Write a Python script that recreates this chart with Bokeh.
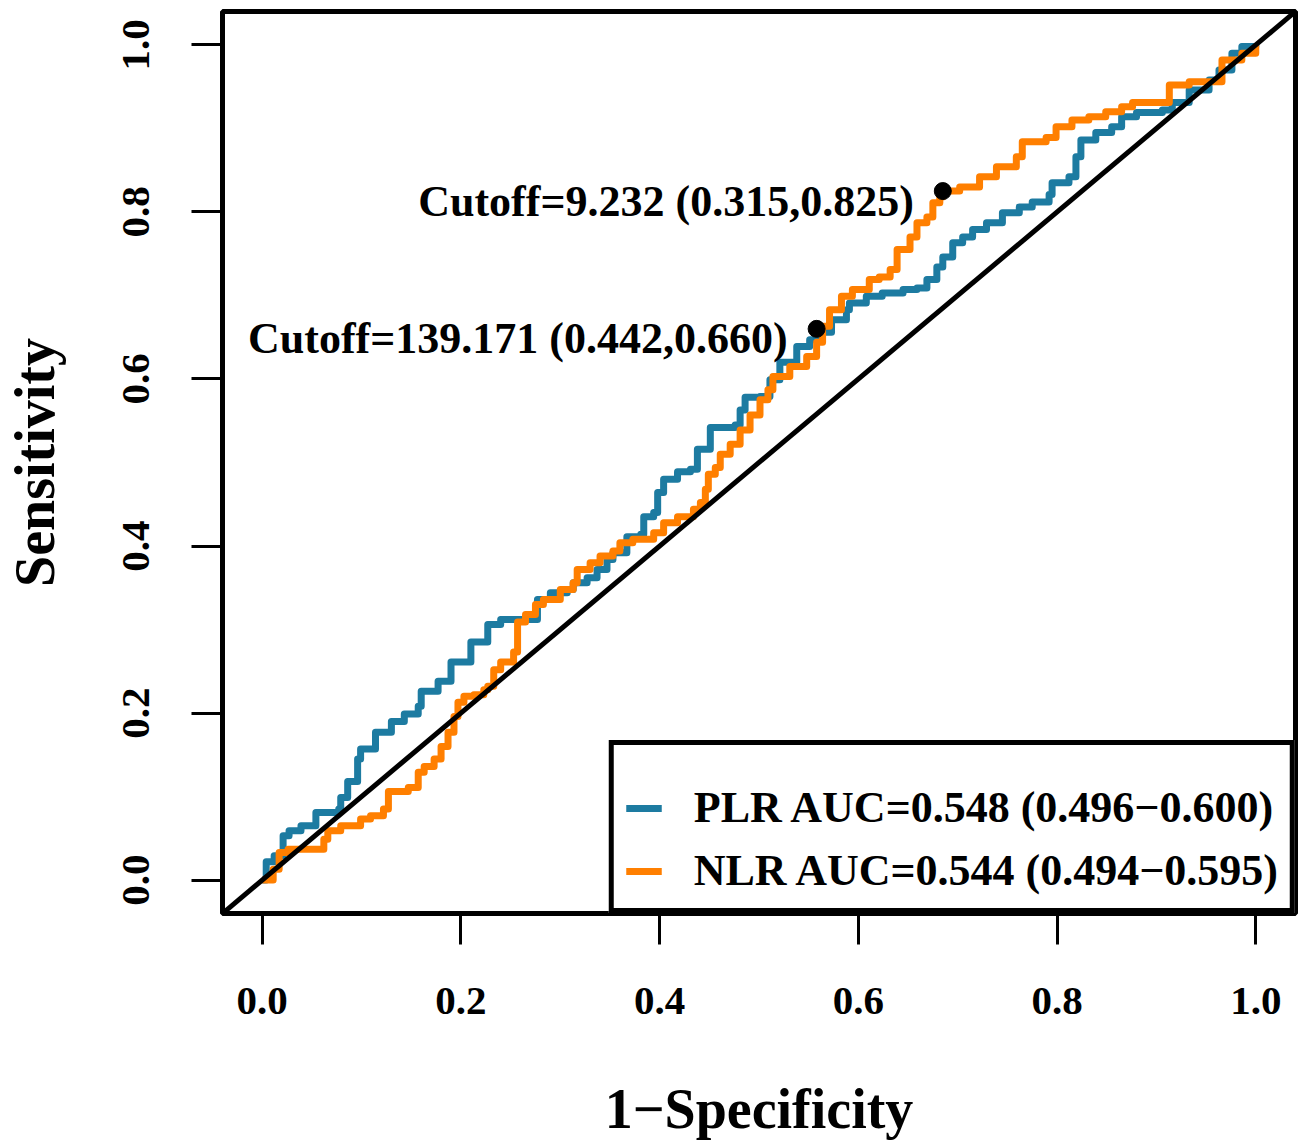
from bokeh.plotting import figure
from bokeh.models import Range1d, FixedTicker, Slope, Legend, LegendItem, ColumnDataSource
from bokeh.embed import file_html
from bokeh.resources import INLINE
from bokeh.core.properties import value

# ---- data ----
plr_fpr = [0.0, 0.004, 0.004, 0.012, 0.021, 0.027, 0.039, 0.054, 0.077, 0.079,
           0.086, 0.096, 0.099, 0.114, 0.130, 0.143, 0.157, 0.160, 0.177, 0.190,
           0.210, 0.210, 0.227, 0.227, 0.240, 0.260, 0.277, 0.290, 0.307, 0.313,
           0.327, 0.337, 0.347, 0.353, 0.367, 0.381, 0.384, 0.394, 0.398, 0.404,
           0.418, 0.431, 0.438, 0.451, 0.476, 0.481, 0.486, 0.501, 0.511, 0.521,
           0.538, 0.551, 0.558, 0.573, 0.588, 0.591, 0.608, 0.624, 0.645, 0.659,
           0.669, 0.679, 0.685, 0.695, 0.705, 0.715, 0.729, 0.745, 0.762, 0.775,
           0.792, 0.795, 0.812, 0.819, 0.824, 0.839, 0.855, 0.865, 0.880, 0.906,
           0.916, 0.933, 0.953, 0.963, 0.976, 0.986, 1.0]
plr_tpr = [0.0, 0.007, 0.022, 0.029, 0.053, 0.059, 0.065, 0.081, 0.085, 0.099,
           0.118, 0.145, 0.157, 0.177, 0.190, 0.199, 0.208, 0.226, 0.238, 0.261,
           0.267, 0.285, 0.297, 0.306, 0.312, 0.312, 0.336, 0.344, 0.348, 0.356,
           0.362, 0.372, 0.384, 0.392, 0.411, 0.414, 0.435, 0.440, 0.464, 0.480,
           0.489, 0.492, 0.516, 0.542, 0.545, 0.563, 0.578, 0.579, 0.599, 0.620,
           0.639, 0.647, 0.656, 0.671, 0.683, 0.691, 0.699, 0.703, 0.707, 0.709,
           0.719, 0.734, 0.746, 0.763, 0.770, 0.779, 0.787, 0.799, 0.806, 0.812,
           0.821, 0.835, 0.842, 0.866, 0.886, 0.895, 0.902, 0.914, 0.919, 0.922,
           0.931, 0.946, 0.958, 0.970, 0.990, 0.998, 1.0]

nlr_fpr = [0.0, 0.011, 0.011, 0.017, 0.026, 0.052, 0.062, 0.066, 0.079, 0.099,
           0.109, 0.122, 0.127, 0.147, 0.157, 0.163, 0.173, 0.180, 0.187, 0.193,
           0.197, 0.203, 0.213, 0.223, 0.227, 0.233, 0.240, 0.253, 0.257, 0.265,
           0.275, 0.283, 0.300, 0.313, 0.317, 0.330, 0.340, 0.353, 0.360, 0.373,
           0.394, 0.404, 0.418, 0.428, 0.434, 0.441, 0.446, 0.449, 0.456, 0.461,
           0.471, 0.481, 0.491, 0.501, 0.509, 0.514, 0.531, 0.548, 0.558, 0.564,
           0.571, 0.583, 0.594, 0.611, 0.621, 0.632, 0.639, 0.652, 0.659, 0.669,
           0.675, 0.682, 0.685, 0.702, 0.722, 0.739, 0.759, 0.765, 0.789, 0.799,
           0.815, 0.832, 0.849, 0.865, 0.876, 0.913, 0.913, 0.933, 0.966, 0.966,
           0.986, 1.0]
nlr_tpr = [0.0, 0.0, 0.013, 0.033, 0.037, 0.037, 0.049, 0.059, 0.065, 0.073,
           0.077, 0.085, 0.106, 0.111, 0.129, 0.136, 0.145, 0.160, 0.177, 0.196,
           0.213, 0.220, 0.222, 0.228, 0.232, 0.252, 0.261, 0.273, 0.309, 0.318,
           0.330, 0.336, 0.348, 0.356, 0.372, 0.380, 0.388, 0.394, 0.404, 0.408,
           0.416, 0.428, 0.435, 0.435, 0.444, 0.452, 0.468, 0.486, 0.494, 0.510,
           0.522, 0.539, 0.557, 0.575, 0.587, 0.603, 0.615, 0.627, 0.644, 0.663,
           0.683, 0.699, 0.707, 0.719, 0.722, 0.731, 0.755, 0.770, 0.787, 0.794,
           0.811, 0.818, 0.825, 0.830, 0.842, 0.854, 0.866, 0.884, 0.889, 0.902,
           0.910, 0.914, 0.920, 0.926, 0.931, 0.931, 0.952, 0.956, 0.956, 0.982,
           0.990, 1.0]

cut_threshold = ["9.232", "139.171"]
cut_specificity = [0.315, 0.442]
cut_sensitivity = [0.825, 0.660]

legend_labels = ["PLR AUC=0.548 (0.496\u22120.600)", "NLR AUC=0.544 (0.494\u22120.595)"]
series_colors = ["#1d7ba1", "#ff7f00"]

ticks = [0.0, 0.2, 0.4, 0.6, 0.8, 1.0]
tick_labels = ["0.0", "0.2", "0.4", "0.6", "0.8", "1.0"]

FONT = "Liberation Serif"

p = figure(width=1298, height=1142,
           x_range=Range1d(-0.04, 1.04), y_range=Range1d(-0.04, 1.04),
           output_backend="svg", toolbar_location=None,
           min_border_left=222, min_border_right=3,
           min_border_top=11, min_border_bottom=227)

p.outline_line_color = "black"
p.outline_line_width = 5
p.grid.visible = False
p.background_fill_color = "white"
p.border_fill_color = "white"

for ax in (p.xaxis[0], p.yaxis[0]):
    ax.ticker = FixedTicker(ticks=ticks, minor_ticks=[])
    ax.major_label_overrides = dict(zip(ticks, tick_labels))
    ax.axis_line_color = None
    ax.major_tick_in = 0
    ax.major_tick_out = 31
    ax.major_tick_line_width = 3
    ax.major_tick_line_color = "black"
    ax.minor_tick_line_color = None
    ax.major_label_text_font = FONT
    ax.major_label_text_font_style = "bold"
    ax.major_label_text_font_size = "41px"
    ax.major_label_text_color = "black"
    ax.axis_label_text_font = FONT
    ax.axis_label_text_font_style = "bold"
    ax.axis_label_text_font_size = "56px"
    ax.axis_label_text_color = "black"

p.xaxis.axis_label = "1\u2212Specificity"
p.yaxis.axis_label = "Sensitivity"
p.xaxis.major_label_standoff = 43
p.yaxis.major_label_standoff = 42
p.yaxis.major_label_orientation = "vertical"
p.xaxis.axis_label_standoff = 61
p.yaxis.axis_label_standoff = 55

# identity line
p.add_layout(Slope(gradient=1, y_intercept=0, line_color="black", line_width=5))

r_plr = p.step(plr_fpr, plr_tpr, mode="after", line_color=series_colors[0],
               line_width=7, line_join="round")
r_nlr = p.step(nlr_fpr, nlr_tpr, mode="after", line_color=series_colors[1],
               line_width=7, line_join="round")

cut_x = [1 - s for s in cut_specificity]
cut_text = ["Cutoff=%s (%.3f,%.3f)" % (t, s, v)
            for t, s, v in zip(cut_threshold, cut_specificity, cut_sensitivity)]
src = ColumnDataSource(dict(x=cut_x, y=cut_sensitivity, t=cut_text))
p.scatter("x", "y", source=src, size=17, color="black")
p.text("x", "y", text="t", source=src, text_align="right", text_baseline="middle",
       x_offset=-29, y_offset=10, text_font=value(FONT), text_font_style="bold",
       text_font_size="44px", text_color="black")

legend = Legend(items=[LegendItem(label=legend_labels[0], renderers=[r_plr]),
                       LegendItem(label=legend_labels[1], renderers=[r_nlr])],
                location="bottom_right", margin=0, padding=12, spacing=12,
                label_height=50, glyph_height=50, glyph_width=36, label_standoff=32,
                border_line_color="black", border_line_width=5, border_line_alpha=1.0,
                background_fill_color="white", background_fill_alpha=1.0,
                label_text_font=FONT, label_text_font_style="bold",
                label_text_font_size="44px", label_text_color="black",
                title=" ", title_text_font_size="12px", title_standoff=11)
p.add_layout(legend)

open("out.html", "w").write(file_html(p, INLINE))
